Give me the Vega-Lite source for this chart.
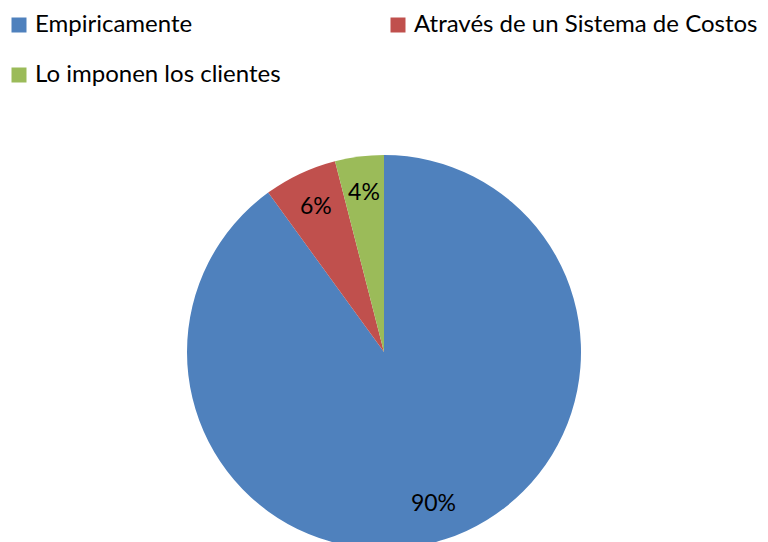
{
  "$schema": "https://vega.github.io/schema/vega-lite/v6.json",
  "width": 768,
  "height": 374,
  "autosize": {"type": "none"},
  "padding": {"top": 165, "left": 0, "right": 0, "bottom": 3},
  "background": "white",
  "config": {"view": {"stroke": null}, "font": "Lato"},
  "data": {
    "values": [
      {"categoria": "Empiricamente", "valor": 90, "etiqueta": "90%", "orden": 1},
      {"categoria": "Através de un Sistema de Costos", "valor": 6, "etiqueta": "6%", "orden": 2},
      {"categoria": "Lo imponen los clientes", "valor": 4, "etiqueta": "4%", "orden": 3}
    ]
  },
  "encoding": {
    "theta": {"field": "valor", "type": "quantitative", "stack": true},
    "order": {"field": "orden", "type": "quantitative"}
  },
  "layer": [
    {
      "mark": {"type": "arc", "outerRadius": 197},
      "encoding": {
        "color": {
          "field": "categoria",
          "type": "nominal",
          "scale": {
            "domain": ["Empiricamente", "Através de un Sistema de Costos", "Lo imponen los clientes"],
            "range": ["#4F81BD", "#C0504D", "#9BBB59"]
          },
          "legend": {
            "title": null,
            "orient": "none",
            "legendX": 7,
            "legendY": -152,
            "direction": "horizontal",
            "columns": 2,
            "columnPadding": 105,
            "rowPadding": 26,
            "symbolType": "square",
            "symbolSize": 225,
            "symbolStrokeWidth": 0,
            "symbolOpacity": 1,
            "labelFontSize": 24,
            "labelFont": "Lato",
            "labelColor": "#000000",
            "labelOffset": 4,
            "labelLimit": 500
          }
        }
      }
    },
    {
      "mark": {"type": "text", "radius": 160, "fontSize": 23, "font": "Lato", "color": "#000000"},
      "encoding": {
        "text": {"field": "etiqueta", "type": "nominal"}
      }
    }
  ]
}
